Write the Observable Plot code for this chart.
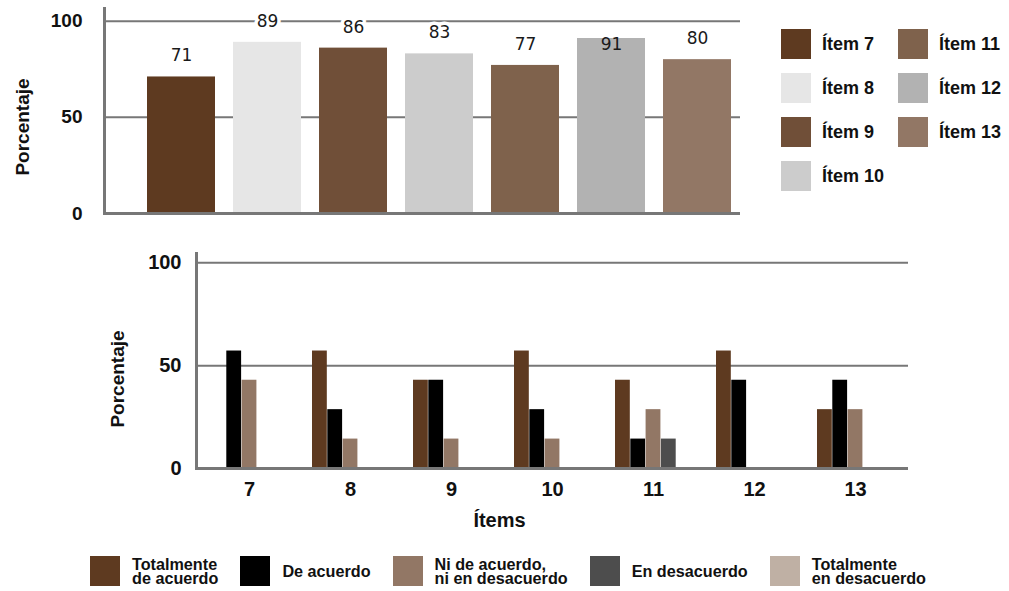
<!DOCTYPE html>
<html>
<head>
<meta charset="utf-8">
<script src="https://cdn.jsdelivr.net/npm/d3@7"></script>
<script src="https://cdn.jsdelivr.net/npm/@observablehq/plot@0.6"></script>
<style>
  html, body { margin: 0; padding: 0; background: #fff; }
  #root { position: relative; width: 1009px; height: 591px; overflow: hidden;
          font-family: "Liberation Sans", Arial, sans-serif; color: #111; }
  #top, #bottom { position: absolute; left: 0; }
  #top { top: 0; }
  #bottom { top: 230px; }
  #legend-top { position: absolute; left: 781px; top: 29px; display: grid;
                grid-auto-flow: column; grid-template-rows: repeat(4, 44px);
                grid-template-columns: 117px 100px; }
  #legend-top .item { display: flex; align-items: flex-start; }
  #legend-top .sw { width: 30px; height: 30px; flex: none; }
  #legend-top .lab { margin-left: 11px; font-weight: bold; font-size: 18px; line-height: 30px; white-space: nowrap; }
  #legend-bottom { position: absolute; left: 90px; top: 556px; display: flex; }
  #legend-bottom .item { display: flex; align-items: center; margin-right: 22px; }
  #legend-bottom .sw { width: 30px; height: 30px; flex: none; }
  #legend-bottom .lab { margin-left: 12px; font-weight: bold; font-size: 16.2px; line-height: 14.5px; white-space: pre; }
</style>
</head>
<body>
<div id="root">
  <div id="top"></div>
  <div id="legend-top"></div>
  <div id="bottom"></div>
  <div id="legend-bottom"></div>
</div>
<script>
// Items evaluated
const items = ["7", "8", "9", "10", "11", "12", "13"];
const itemLabels = ["Ítem 7", "Ítem 8", "Ítem 9", "Ítem 10", "Ítem 11", "Ítem 12", "Ítem 13"];
// Overall agreement per item (%)
const agreement = [71, 89, 86, 83, 77, 91, 80];
const itemColors = ["#5e3a20", "#e6e6e6", "#704f38", "#cccccc", "#7f624c", "#b2b2b2", "#927765"];

// Response distribution per item (%)
const categories = [
  "Totalmente de acuerdo",
  "De acuerdo",
  "Ni de acuerdo, ni en desacuerdo",
  "En desacuerdo",
  "Totalmente en desacuerdo"
];
const categoryLegend = [
  "Totalmente\nde acuerdo",
  "De acuerdo",
  "Ni de acuerdo,\nni en desacuerdo",
  "En desacuerdo",
  "Totalmente\nen desacuerdo"
];
const totalmenteDeAcuerdo = [0, 57.1, 42.9, 57.1, 42.9, 57.1, 28.6];
const deAcuerdo = [57.1, 28.6, 42.9, 28.6, 14.3, 42.9, 42.9];
const niNi = [42.9, 14.3, 14.3, 14.3, 28.6, 0, 28.6];
const enDesacuerdo = [0, 0, 0, 0, 14.3, 0, 0];
const totalmenteEnDesacuerdo = [0, 0, 0, 0, 0, 0, 0];
const categoryColors = ["#5e3a20", "#000000", "#927765", "#4d4d4d", "#bfb0a4"];

const yTicks = [0, 50, 100];

const FONT = "Liberation Sans, Arial, sans-serif";
const GRID = "#777";

// ---------- top chart: agreement per item ----------
const topData = items.map((item, i) => ({item, value: agreement[i]}));

const topPlot = Plot.plot({
  width: 760,
  height: 230,
  marginLeft: 104,
  marginRight: 20,
  marginTop: 8,
  marginBottom: 17,
  style: {fontFamily: FONT, color: "#111", background: "transparent"},
  x: {domain: items, paddingInner: 0.21, paddingOuter: 0.294, align: 0.83, label: null, axis: null},
  y: {domain: [0, 106.6], label: null},
  color: {domain: items, range: itemColors},
  marks: [
    Plot.ruleY([50, 100], {stroke: GRID, strokeWidth: 2}),
    Plot.barY(topData, {x: "item", y: "value", fill: "item"}),
    Plot.ruleY([0], {stroke: GRID, strokeWidth: 3}),
    Plot.frame({anchor: "left", stroke: GRID, strokeWidth: 3}),
    Plot.axisY({ticks: yTicks, tickSize: 0, tickPadding: 22, fontSize: 19, fontWeight: "bold", label: null}),
    Plot.text(["Porcentaje"], {frameAnchor: "left", rotate: -90, dx: -82, dy: 16, fontSize: 19, fontWeight: "bold", textAnchor: "middle", lineAnchor: "middle"}),
    Plot.text(topData, {filter: d => d.value < 90, x: "item", y: "value", text: d => String(d.value), dy: -21,
      fontFamily: "DejaVu Sans", fontSize: 17, fill: "#1a1a1a", stroke: "white", strokeWidth: 7, lineAnchor: "middle"}),
    Plot.text(topData, {filter: d => d.value >= 90, x: "item", y: "value", text: d => String(d.value), dy: 6,
      fontFamily: "DejaVu Sans", fontSize: 17, fill: "#1a1a1a", lineAnchor: "middle"})
  ]
});
document.getElementById("top").appendChild(topPlot);

// legend for the top chart
const lt = document.getElementById("legend-top");
itemLabels.forEach((lab, i) => {
  const el = document.createElement("div");
  el.className = "item";
  el.innerHTML = `<div class="sw" style="background:${itemColors[i]}"></div><div class="lab">${lab}</div>`;
  lt.appendChild(el);
});

// ---------- bottom chart: response distribution ----------
const series = [totalmenteDeAcuerdo, deAcuerdo, niNi, enDesacuerdo, totalmenteEnDesacuerdo];
const bottomData = [];
series.forEach((vals, k) => vals.forEach((v, i) => bottomData.push({item: items[i], cat: categories[k], k, value: v})));

const W = 930, ML = 196, MR = 22, PAD = 0.248;
const step = (W - ML - MR) / items.length;
const slot = step * (1 - PAD) / categories.length;

const bottomPlot = Plot.plot({
  width: W,
  height: 310,
  marginLeft: ML,
  marginRight: MR,
  marginTop: 23,
  marginBottom: 72,
  style: {fontFamily: FONT, color: "#111", background: "transparent"},
  x: {domain: items, paddingInner: PAD, paddingOuter: PAD / 2, label: null},
  y: {domain: [0, 104.5], label: null},
  color: {domain: categories, range: categoryColors},
  marks: [
    Plot.ruleY([50, 100], {stroke: GRID, strokeWidth: 2}),
    ...categories.map((c, k) =>
      Plot.barY(bottomData.filter(d => d.k === k && d.value > 0), {
        x: "item", y: "value", fill: "cat",
        insetLeft: k * slot, insetRight: (categories.length - 1 - k) * slot
      })
    ),
    Plot.ruleY([0], {stroke: GRID, strokeWidth: 3}),
    Plot.frame({anchor: "left", stroke: GRID, strokeWidth: 3}),
    Plot.axisY({ticks: yTicks, tickSize: 0, tickPadding: 15, fontSize: 20, fontWeight: "bold", label: null}),
    Plot.axisX({tickSize: 0, tickPadding: 13, fontSize: 20, fontWeight: "bold", label: null}),
    Plot.text(["Porcentaje"], {frameAnchor: "left", rotate: -90, dx: -79, dy: 18, fontSize: 19, fontWeight: "bold", textAnchor: "middle", lineAnchor: "middle"}),
    Plot.text(["Ítems"], {frameAnchor: "bottom", dx: -53, dy: 52, fontSize: 20, fontWeight: "bold", textAnchor: "middle", lineAnchor: "middle"})
  ]
});
document.getElementById("bottom").appendChild(bottomPlot);

// legend for the bottom chart
const lb = document.getElementById("legend-bottom");
categoryLegend.forEach((lab, k) => {
  const el = document.createElement("div");
  el.className = "item";
  const sw = document.createElement("div");
  sw.className = "sw";
  sw.style.background = categoryColors[k];
  const tx = document.createElement("div");
  tx.className = "lab";
  tx.textContent = lab;
  el.appendChild(sw);
  el.appendChild(tx);
  lb.appendChild(el);
});
</script>
</body>
</html>
